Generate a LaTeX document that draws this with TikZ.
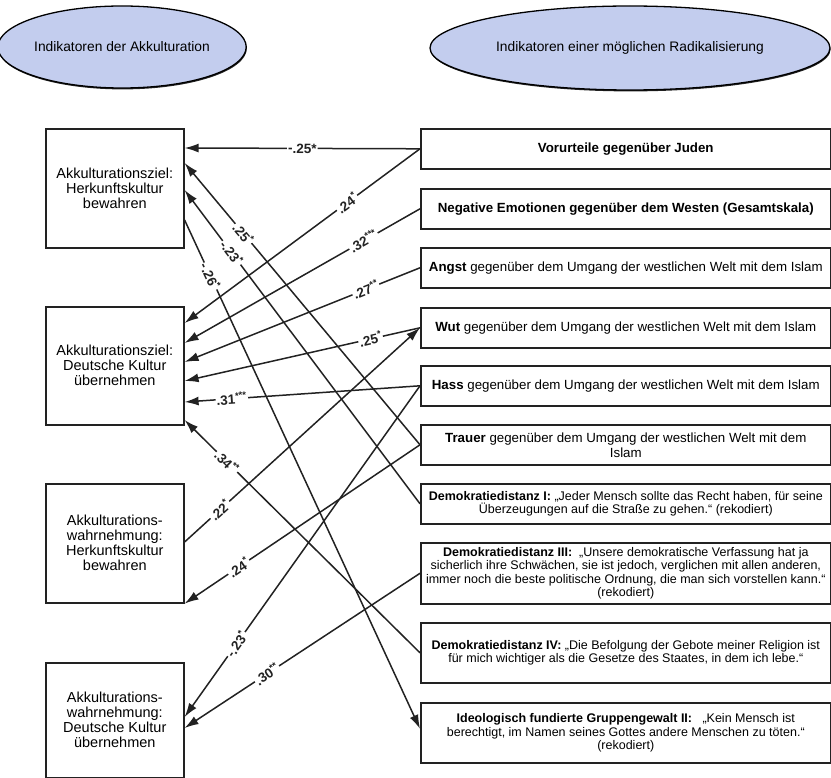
\documentclass[tikz,border=0pt]{standalone}
\usepackage{fontspec}
\setmainfont{Liberation Sans}
\usepackage{tikz}
\usetikzlibrary{arrows.meta, shapes.geometric, shadows}
\definecolor{my_darkgray}{HTML}{222222}
\definecolor{my_lavender}{HTML}{C3CDEE}

\begin{document}
\begin{tikzpicture}[
    x=1pt, y=-1pt,
    indikator/.style={ellipse, draw=black, line width=1.3pt, fill=my_lavender, inner sep=0pt,
        font=\fontsize{13.8}{15}\selectfont,
        drop shadow={shadow xshift=0.6pt, shadow yshift=-1.4pt, fill=black!85, opacity=1}},
    akkbox/.style={draw=my_darkgray, line width=1.6pt, anchor=north west, minimum width=138pt,
        minimum height=118pt, align=center, inner sep=0pt, font=\fontsize{14.5}{15}\selectfont},
    radbox/.style={draw=my_darkgray, line width=1.6pt, anchor=north west, minimum width=410pt,
        minimum height=40pt, align=center, inner sep=1pt, font=\fontsize{13.3}{15}\selectfont},
    demobox/.style={radbox, font=\fontsize{12.5}{13.2}\selectfont},
    pfeil/.style={-{Latex[length=14pt, width=9pt]}, line width=1.5pt, my_darkgray},
    koeff/.style={sloped, fill=white, inner sep=1pt, text=my_darkgray,
        font=\bfseries\fontsize{13.5}{14}\selectfont}
]
\useasboundingbox (0, 0) rectangle (831, 778);

% ---- Ueberschriften ----
\node[indikator, minimum width=235pt, minimum height=82pt] (akk) at (122, 47)
    {Indikatoren der Akkulturation};
\node[indikator, minimum width=400pt, minimum height=84pt] (rad) at (630, 48)
    {Indikatoren einer möglichen Radikalisierung};

% ---- Akkulturation (links) ----
\node[akkbox, minimum height=119pt] (azh) at (45, 128)
    {Akkulturationsziel:\\Herkunftskultur\\bewahren};
\node[akkbox] (azd) at (45, 306)
    {Akkulturationsziel:\\Deutsche Kultur\\übernehmen};
\node[akkbox, minimum height=119pt] (awh) at (45, 483)
    {Akkulturations-\\wahrnehmung:\\Herkunftskultur\\bewahren};
\node[akkbox, minimum height=115pt] (awd) at (45, 662)
    {Akkulturations-\\wahrnehmung:\\Deutsche Kultur\\übernehmen};

% ---- Radikalisierung (rechts) ----
\node[radbox] (vor) at (420, 128) {\textbf{Vorurteile gegenüber Juden}};
\node[radbox] (neg) at (420, 188) {\textbf{Negative Emotionen gegenüber dem Westen (Gesamtskala)}};
\node[radbox] (angst) at (420, 247) {\textbf{Angst} gegenüber dem Umgang der westlichen Welt mit dem Islam};
\node[radbox] (wut) at (420, 307) {\textbf{Wut} gegenüber dem Umgang der westlichen Welt mit dem Islam};
\node[radbox] (hass) at (420, 365) {\textbf{Hass} gegenüber dem Umgang der westlichen Welt mit dem Islam};
\node[radbox] (trauer) at (420, 424)
    {\textbf{Trauer} gegenüber dem Umgang der westlichen Welt mit dem\\Islam};
\node[demobox] (demI) at (420, 483)
    {\textbf{Demokratiedistanz I:} „Jeder Mensch sollte das Recht haben, für seine\\
     Überzeugungen auf die Straße zu gehen.“ (rekodiert)};
\node[demobox, minimum height=61pt] (demIII) at (420, 542)
    {\textbf{Demokratiedistanz III:}\ \ „Unsere demokratische Verfassung hat ja\\
     sicherlich ihre Schwächen, sie ist jedoch, verglichen mit allen anderen,\\
     immer noch die beste politische Ordnung, die man sich vorstellen kann.“\\
     (rekodiert)};
\node[demobox, minimum height=60pt] (demIV) at (420, 622)
    {\textbf{Demokratiedistanz IV:} „Die Befolgung der Gebote meiner Religion ist\\
     für mich wichtiger als die Gesetze des Staates, in dem ich lebe.“};
\node[demobox, minimum height=60pt] (ideo) at (420, 702)
    {\textbf{Ideologisch fundierte Gruppengewalt II:}\ \ \ „Kein Mensch ist\\
     berechtigt, im Namen seines Gottes andere Menschen zu töten.“\\
     (rekodiert)};

% ---- Zusammenhaenge ----
\draw[pfeil] (vor.west) -- node[koeff, pos=0.5] {-.25*} ([yshift=-20pt]azh.north east);
\draw[pfeil] (vor.west) -- node[koeff, pos=0.31] {.24\textsuperscript{*}} ([yshift=-17pt]azd.north east);
\draw[pfeil] (neg.west) -- node[koeff, pos=0.24] {.32\textsuperscript{***}} ([yshift=-37pt]azd.north east);
\draw[pfeil] (angst.west) -- node[koeff, pos=0.23] {.27\textsuperscript{**}} ([yshift=-56pt]azd.north east);
\draw[pfeil] (wut.west) -- node[koeff, pos=0.21] {.25\textsuperscript{*}} ([yshift=-75pt]azd.north east);
\draw[pfeil] (hass.west) -- node[koeff, pos=0.8] {.31\textsuperscript{***}} ([yshift=-96pt]azd.north east);
\draw[pfeil] (demIV.west) -- node[koeff, pos=0.82] {.34\textsuperscript{**}} ([yshift=-114pt]azd.north east);
\draw[pfeil] (trauer.west) -- node[koeff, pos=0.75] {.25\textsuperscript{*}} ([yshift=-35pt]azh.north east);
\draw[pfeil] (demI.west) -- node[koeff, pos=0.8] {-.23\textsuperscript{*}} ([yshift=-62pt]azh.north east);
\draw[pfeil] ([yshift=-92pt]azh.north east) -- node[koeff, pos=0.11] {-.26\textsuperscript{*}} ([yshift=4pt]ideo.west);
\draw[pfeil] ([yshift=-59pt]awh.north east) -- node[koeff, pos=0.15] {.22\textsuperscript{*}} (wut.west);
\draw[pfeil] (trauer.west) -- node[koeff, pos=0.77] {.24\textsuperscript{*}} (awh.south east);
\draw[pfeil] (hass.west) -- node[koeff, pos=0.78] {-.23\textsuperscript{*}} ([yshift=-55pt]awd.north east);
\draw[pfeil] (demIII.west) -- node[koeff, pos=0.65] {.30\textsuperscript{**}} ([yshift=-66pt]awd.north east);

\end{tikzpicture}
\end{document}
